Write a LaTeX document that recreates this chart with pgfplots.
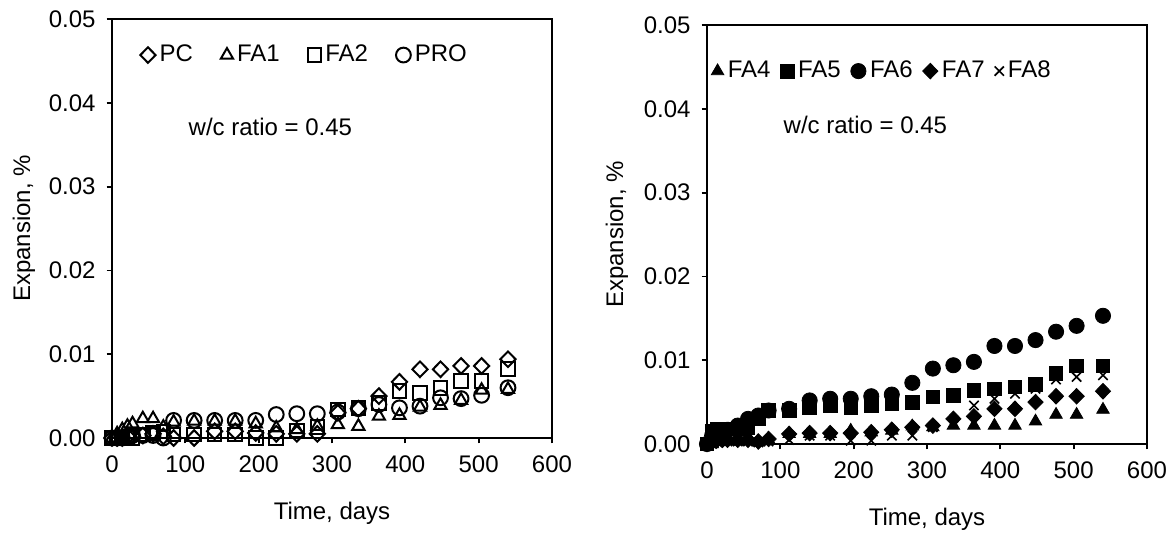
\documentclass[border=0pt]{standalone}
\usepackage{fontspec}
\setmainfont{Liberation Sans}
\usepackage{pgfplots}
\pgfplotsset{compat=1.18}
\newcommand\ff{\fontsize{12}{14.4}\selectfont}

% days of measurement, expansion in %
\pgfplotstableread{
d    PC      FAa     FAb     PRO
0    0.0000  0.0000  0.0000  0.0000
7    0.0000  0.0005  0.0000  0.0000
14   0.0000  0.0010  0.0000  0.0000
21   0.0002  0.0014  0.0000  0.0002
28   0.0002  0.0017  0.0000  0.0003
42   0.0003  0.0023  0.0004  0.0003
56   0.0005  0.0023  0.0006  0.0003
70   0.0002  0.0013  0.0008  0.0000
84   0.0000  0.0019  0.0004  0.0021
112  0.0000  0.0020  0.0004  0.0021
140  0.0008  0.0020  0.0004  0.0021
168  0.0008  0.0020  0.0004  0.0021
196  0.0006  0.0017  0.0000  0.0021
224  0.0005  0.0012  0.0000  0.0028
252  0.0005  0.0010  0.0009  0.0029
280  0.0005  0.0014  0.0013  0.0029
308  0.0030  0.0016  0.0034  0.0031
336  0.0035  0.0014  0.0036  0.0035
364  0.0050  0.0026  0.0042  0.0040
392  0.0067  0.0027  0.0056  0.0036
420  0.0082  0.0037  0.0054  0.0038
448  0.0082  0.0039  0.0060  0.0048
476  0.0086  0.0045  0.0068  0.0047
504  0.0086  0.0057  0.0068  0.0051
540  0.0094  0.0058  0.0082  0.0060
}\lefttab

\pgfplotstableread{
d    FAd     FAe     FAf     FAg     FAh
0    0.0000  0.0000  0.0000  0.0000  0.0000
7    0.0000  0.0015  0.0010  0.0003  0.0000
14   0.0003  0.0018  0.0015  0.0005  0.0002
21   0.0003  0.0018  0.0015  0.0005  0.0003
28   0.0005  0.0018  0.0017  0.0005  0.0003
42   0.0003  0.0018  0.0022  0.0005  0.0003
56   0.0005  0.0020  0.0030  0.0005  0.0003
70   0.0002  0.0030  0.0034  0.0003  0.0002
84   0.0005  0.0040  0.0040  0.0006  0.0003
112  0.0012  0.0040  0.0042  0.0012  0.0005
140  0.0012  0.0043  0.0052  0.0013  0.0010
168  0.0012  0.0046  0.0054  0.0013  0.0010
196  0.0016  0.0043  0.0054  0.0013  0.0004
224  0.0014  0.0046  0.0057  0.0014  0.0004
252  0.0016  0.0048  0.0059  0.0017  0.0010
280  0.0021  0.0050  0.0073  0.0020  0.0010
308  0.0020  0.0056  0.0090  0.0022  0.0020
336  0.0022  0.0058  0.0094  0.0030  0.0024
364  0.0022  0.0064  0.0098  0.0033  0.0046
392  0.0022  0.0066  0.0117  0.0042  0.0054
420  0.0022  0.0068  0.0117  0.0042  0.0060
448  0.0027  0.0071  0.0124  0.0050  0.0066
476  0.0035  0.0084  0.0134  0.0057  0.0077
504  0.0035  0.0093  0.0141  0.0057  0.0080
540  0.0041  0.0093  0.0153  0.0063  0.0082
}\righttab

\pgfplotsset{
  expstyle/.style={
    scale only axis,
    width=220pt, height=209.5pt,
    xmin=0, xmax=600, ymin=0, ymax=0.05,
    xtick={0,100,...,600},
    ytick={0,0.01,...,0.05},
    scaled y ticks=false,
    yticklabel style={/pgf/number format/fixed, /pgf/number format/fixed zerofill, /pgf/number format/precision=2},
    /pgf/number format/assume math mode=true,
    tick align=outside, xtick pos=left, ytick pos=left,
    major tick length=2.7pt,
    axis line style={line width=0.9pt},
    every tick/.style={line width=0.9pt, black},
    tick label style={font=\ff},
    xticklabel style={yshift=-2.5pt},
    yticklabel style={xshift=-2pt},
    label style={font=\ff},
    xlabel={Time, days},
    ylabel={Expansion, \%},
    xlabel style={at={(axis description cs:0.5,0)}, anchor=center, yshift=-37.5pt},
    legend style={draw=none, fill=none, font=\ff, legend columns=-1},
    legend image code/.code={\draw[##1] plot coordinates {(0pt,0pt)};},
    clip=false,
  },
}

\begin{document}
\begin{tikzpicture}
\path[use as bounding box] (0,0) rectangle (587pt,269pt);

\begin{axis}[expstyle, at={(56pt,50pt)}, anchor=south west,
    ylabel style={at={(axis description cs:-0.2,0.5)}, anchor=center},
    legend style={at={(0.44,0.914)}, anchor=center,
      /tikz/every even column/.append style={column sep=12pt}},
  ]
  \addplot[only marks, mark=diamond, mark size=3.9pt, mark options={xscale=1.3, line width=1pt}] table[x=d, y=PC] {\lefttab};
  \addplot[only marks, mark=triangle, mark size=3.5pt, mark options={line width=1pt}] table[x=d, y=FAa] {\lefttab};
  \addplot[only marks, mark=square, mark size=3.4pt, mark options={line width=1pt}] table[x=d, y=FAb] {\lefttab};
  \addplot[only marks, mark=o, mark size=3.7pt, mark options={line width=1pt}] table[x=d, y=PRO] {\lefttab};
  \legend{PC, FA1, FA2, PRO}
  \node[font=\ff] at (axis description cs:0.36,0.742) {w/c ratio = 0.45};
\end{axis}

\begin{axis}[expstyle, at={(353.5pt,47pt)}, anchor=south west,
    ylabel style={at={(axis description cs:-0.205,0.5)}, anchor=center},
    legend style={at={(0.4,0.89)}, anchor=center,
      /tikz/every even column/.append style={column sep=3pt}},
  ]
  \addplot[only marks, mark=triangle*, mark size=3.6pt, mark options={fill=black}] table[x=d, y=FAd] {\righttab};
  \addplot[only marks, mark=square*, mark size=3.4pt, mark options={fill=black}] table[x=d, y=FAe] {\righttab};
  \addplot[only marks, mark=*, mark size=3.8pt, mark options={fill=black}] table[x=d, y=FAf] {\righttab};
  \addplot[only marks, mark=diamond*, mark size=3.9pt, mark options={xscale=1.3, fill=black}] table[x=d, y=FAg] {\righttab};
  \addplot[only marks, mark=x, mark size=3.3pt, mark options={line width=0.8pt}] table[x=d, y=FAh] {\righttab};
  \legend{FA4, FA5, FA6, FA7, FA8}
  \node[font=\ff] at (axis description cs:0.36,0.761) {w/c ratio = 0.45};
\end{axis}
\end{tikzpicture}
\end{document}
